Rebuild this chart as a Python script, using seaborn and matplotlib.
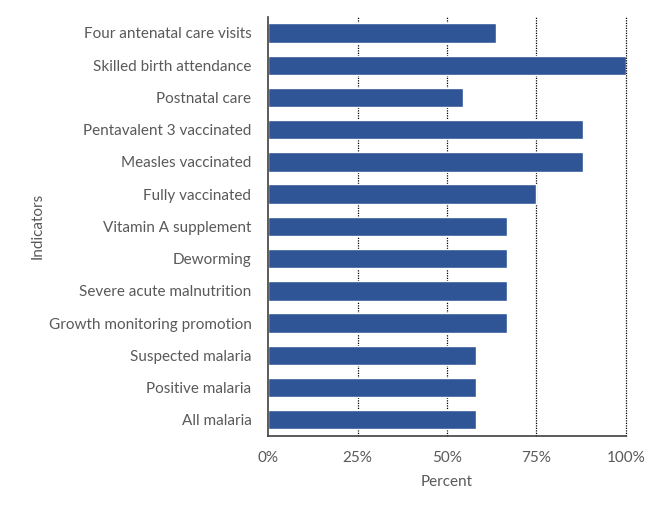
import matplotlib
matplotlib.use("Agg")
import matplotlib.pyplot as plt
import seaborn as sns
import pandas as pd
from matplotlib.ticker import PercentFormatter

indicators = [
    "Four antenatal care visits",
    "Skilled birth attendance",
    "Postnatal care",
    "Pentavalent 3 vaccinated",
    "Measles vaccinated",
    "Fully vaccinated",
    "Vitamin A supplement",
    "Deworming",
    "Severe acute malnutrition",
    "Growth monitoring promotion",
    "Suspected malaria",
    "Positive malaria",
    "All malaria",
]
percent = [63.6, 100, 54.5, 88.0, 88.0, 75.0, 66.7, 66.7, 66.7, 66.7, 58.0, 58.0, 58.0]

df = pd.DataFrame({"Indicator": indicators, "Percent": percent})

sns.set_theme(style="white")
plt.rcParams['font.family'] = ['Lato', 'DejaVu Sans']

fig = plt.figure(figsize=(6.62, 5.11), dpi=100)
ax = fig.add_axes([0.405, 0.147, 0.5405, 0.82])
sns.barplot(data=df, y="Indicator", x="Percent", color="#2F5597", width=0.6,
            saturation=1, ax=ax, orient="h", zorder=2)
ax.set_xlim(0, 100)
ax.set_xticks([0, 25, 50, 75, 100])
ax.xaxis.set_major_formatter(PercentFormatter(decimals=0))
for x in [25, 50, 75, 100]:
    ax.axvline(x, color="black", linestyle=(0, (1, 1)), linewidth=0.9, zorder=1,
               clip_on=False)
for s in ["top", "right"]:
    ax.spines[s].set_visible(False)
ax.spines["left"].set_color("#404040")
ax.spines["bottom"].set_color("#404040")
ax.spines["left"].set_linewidth(1.2)
ax.spines["bottom"].set_linewidth(1.2)
ax.tick_params(axis="y", length=0, labelsize=11, labelcolor="#595959", pad=12)
ax.tick_params(axis="x", length=0, labelsize=11, labelcolor="#595959", pad=11)
ax.set_xlabel("Percent", fontsize=11, color="#595959", labelpad=7)
ax.set_ylabel("Indicators", fontsize=11, color="#595959")
ax.yaxis.set_label_coords(-0.625, 0.5)
ax.set_ylim(12.5, -0.5)
fig.savefig("out.png", dpi=100)
